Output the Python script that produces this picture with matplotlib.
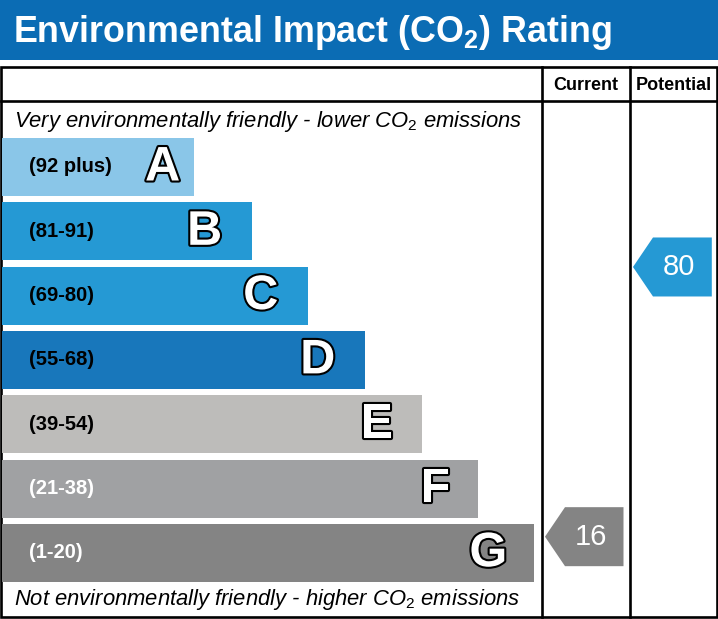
import matplotlib
matplotlib.use("Agg")
import matplotlib.pyplot as plt
from matplotlib.patches import Polygon, Rectangle
import matplotlib.patheffects as pe

plt.rcParams["mathtext.fontset"] = "custom"
plt.rcParams["mathtext.rm"] = "Liberation Sans"
plt.rcParams["mathtext.it"] = "Liberation Sans:italic"
plt.rcParams["mathtext.bf"] = "Liberation Sans:bold"

# ---- data ----
bands = ["A", "B", "C", "D", "E", "F", "G"]
ranges = ["(92 plus)", "(81-91)", "(69-80)", "(55-68)", "(39-54)", "(21-38)", "(1-20)"]
band_lengths = [192, 250, 306, 363, 420, 476, 532]
current_rating = 16
potential_rating = 80
title = "Environmental Impact (CO$_\\mathbf{2}$) Rating"
top_note = "Very environmentally friendly - lower CO$_\\mathit{2}$ emissions"
bottom_note = "Not environmentally friendly - higher CO$_\\mathit{2}$ emissions"
col_headers = ["Current", "Potential"]

# ---- style ----
band_colors = ["#8ac6e8", "#2599d4", "#2599d4", "#1877bb", "#bdbcba", "#a0a1a3", "#848484"]
label_colors = ["black"] * 5 + ["white"] * 2
letter_pad = [14, 30, 30, 30, 29, 28, 27]
W, H = 718, 619
FONT = "Liberation Sans"

fig = plt.figure(figsize=(W / 100, H / 100), dpi=100)
ax = fig.add_axes([0, 0, 1, 1])
ax.set_xlim(0, W)
ax.set_ylim(H, 0)
ax.axis("off")

# title bar
ax.add_patch(Rectangle((0, 0), W, 60, color="#0b6cb4", lw=0))
ax.text(13, 32.5, title, color="white", fontsize=25.8, fontweight="bold",
        family=FONT, va="center", ha="left")

# table frame
lw = 1.9
left, right, top, hdr, bottom = 1.2, 716.8, 66.5, 100.5, 616.8
c1, c2 = 542, 630
ax.add_patch(Rectangle((left, top), right - left, bottom - top, fill=False,
                       ec="black", lw=lw))
ax.plot([left, right], [hdr, hdr], color="black", lw=lw)
ax.plot([c1, c1], [top, bottom], color="black", lw=lw)
ax.plot([c2, c2], [top, bottom], color="black", lw=lw)
ax.text((c1 + c2) / 2, 85, col_headers[0], fontsize=13, fontweight="bold",
        family=FONT, ha="center", va="center")
ax.text((c2 + right) / 2, 85, col_headers[1], fontsize=13, fontweight="bold",
        family=FONT, ha="center", va="center")

ax.text(14, 121, top_note, fontsize=15.8, style="italic", family=FONT,
        ha="left", va="center")
ax.text(14, 599, bottom_note, fontsize=15.8, style="italic", family=FONT,
        ha="left", va="center")

# bands
y0, pitch, bh, x0 = 167, 64.3, 58, 2.2
ys = [y0 + i * pitch for i in range(len(bands))]
ax.barh(ys, band_lengths, height=bh, left=x0, color=band_colors, lw=0)
for i, (b, r) in enumerate(zip(bands, ranges)):
    ax.text(29, ys[i], r, fontsize=14.5, fontweight="bold", family=FONT,
            color=label_colors[i], ha="left", va="center")
    ax.text(x0 + band_lengths[i] - letter_pad[i], ys[i] + 1, b, fontsize=35,
            fontweight="bold", family=FONT, color="white",
            ha="right", va="center",
            path_effects=[pe.withStroke(linewidth=3, foreground="black")])

# rating -> vertical position (linear scale)
def rating_y(v):
    return 604.1 - 4.214 * v

def arrow(xl, xr, v, color):
    yc = rating_y(v)
    h2, tip = 29.5, 20
    pts = [(xl, yc), (xl + tip, yc - h2), (xr, yc - h2), (xr, yc + h2), (xl + tip, yc + h2)]
    ax.add_patch(Polygon(pts, closed=True, color=color, lw=0))
    ax.text((xl + tip + xr) / 2 - 3, yc, str(v), fontsize=21, color="white",
            family=FONT, ha="center", va="center")

arrow(c1 + 3, c2 - 6.5, current_rating, band_colors[6])
arrow(c2 + 3, right - 5, potential_rating, band_colors[2])

fig.savefig("out.png", dpi=100)
